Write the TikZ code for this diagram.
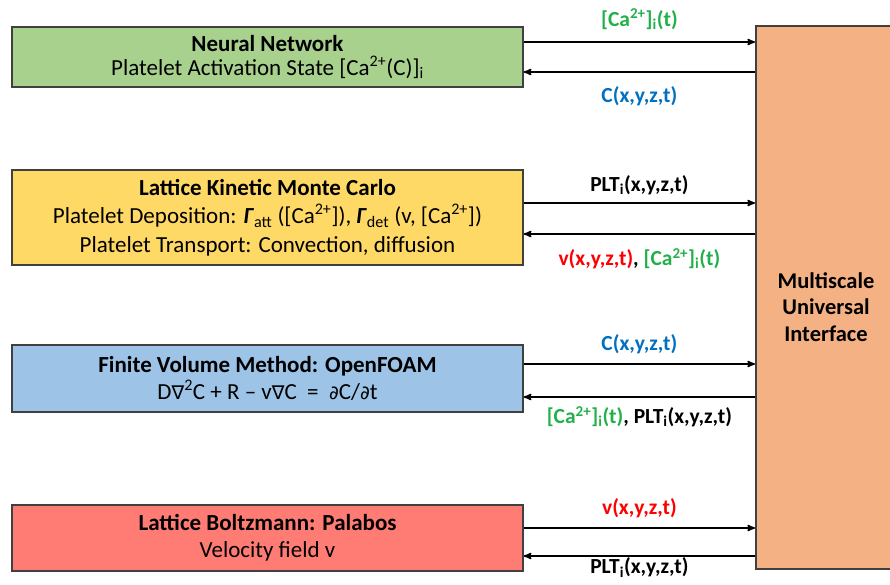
\documentclass[tikz,border=0pt]{standalone}
\usepackage{fontspec}
\setmainfont{Carlito}
\newfontfamily\symfont{DejaVu Sans}
\usetikzlibrary{positioning, arrows}

\definecolor{nnGreen}{HTML}{A9D18E}
\definecolor{kmcYellow}{HTML}{FFD966}
\definecolor{fvmBlue}{HTML}{9DC3E6}
\definecolor{lbRed}{HTML}{FF7C74}
\definecolor{muiOrange}{HTML}{F4B183}
\definecolor{boxEdge}{HTML}{404040}
\definecolor{labGreen}{HTML}{22B04B}
\definecolor{labBlue}{HTML}{0070C0}
\definecolor{labRed}{HTML}{FF0000}

\newcommand{\ca}{[Ca\textsuperscript{2+}]}
\newcommand{\cai}{\ca\textsubscript{i}(t)}
\newcommand{\plt}{PLT\textsubscript{i}(x,y,z,t)}
\newcommand{\rate}[1]{\textbf{\textit{Γ}}\textsubscript{#1}}
\newcommand{\nab}{{\symfont\fontsize{19}{19}\selectfont ∇}}
\newcommand{\prt}{{\symfont\fontsize{19}{19}\selectfont ∂}}

\begin{document}
\begin{tikzpicture}[x=1pt, y=-1pt, >=stealth', line width=1.6pt,
                  model/.style={draw=boxEdge, minimum width=511pt, inner sep=0pt,
                      align=center, font=\fontsize{23}{27.5}\selectfont},
                  link/.style={->, black},
                  lab/.style={font=\bfseries\fontsize{21.5}{22}\selectfont}]

                  \useasboundingbox (0,0) rectangle (890,585);

                  % Los modelos de cada escala.
                  \node[model, fill=nnGreen, minimum height=60pt,
                      font=\fontsize{23}{24}\selectfont] (nn) at (267.5,57)
                  {\textbf{Neural Network}\\
                      Platelet Activation State [Ca\textsuperscript{2+}(C)]\textsubscript{i}};
                  \node[model, fill=kmcYellow, minimum height=95pt,
                      font=\fontsize{23}{28.5}\selectfont] (kmc) at (267.5,217.5)
                  {\textbf{Lattice Kinetic Monte Carlo}\\
                      Platelet Deposition: \rate{att} (\ca), \rate{det} (v, \ca)\\
                      Platelet Transport: Convection, diffusion};
                  \node[model, fill=fvmBlue, minimum height=67pt] (fvm) at (267.5,378.5)
                  {\textbf{Finite Volume Method: OpenFOAM}\\
                      D\nab\textsuperscript{2}C + R -- v\nab C ~=~ \prt C/\prt t};
                  \node[model, fill=lbRed, minimum height=66pt] (lb) at (267.5,538)
                  {\textbf{Lattice Boltzmann: Palabos}\\
                      Velocity field v};

                  % La interfaz.
                  \node[draw=boxEdge, fill=muiOrange, minimum width=150pt,
                      minimum height=543pt, anchor=north west, inner sep=0pt] (mui) at (755,25) {};
                  \node[align=center, font=\bfseries\fontsize{22.5}{26.5}\selectfont]
                  (muitext) at (826,307) {Multiscale\\Universal\\Interface};

                  % Intercambio de datos.
                  \draw[link] ([yshift=15pt]nn.east) -- ([yshift=15pt]nn.east -| mui.west)
                  node[lab, midway, above=8pt, labGreen] {\cai};
                  \draw[link] ([yshift=-15pt]nn.east -| mui.west) -- ([yshift=-15pt]nn.east)
                  node[lab, midway, below=10pt, labBlue] {C(x,y,z,t)};

                  \draw[link] ([yshift=14.5pt]kmc.east) -- ([yshift=14.5pt]kmc.east -| mui.west)
                  node[lab, midway, above=4pt] {\plt};
                  \draw[link] ([yshift=-16.5pt]kmc.east -| mui.west) -- ([yshift=-16.5pt]kmc.east)
                  node[lab, midway, below=10pt] {\textcolor{labRed}{v(x,y,z,t)},
                      \textcolor{labGreen}{\cai}};

                  \draw[link] ([yshift=14.5pt]fvm.east) -- ([yshift=14.5pt]fvm.east -| mui.west)
                  node[lab, midway, above=6pt, labBlue] {C(x,y,z,t)};
                  \draw[link] ([yshift=-18.5pt]fvm.east -| mui.west) -- ([yshift=-18.5pt]fvm.east)
                  node[lab, midway, below=5pt] {\textcolor{labGreen}{\cai}, \plt};

                  \draw[link] ([yshift=10pt]lb.east) -- ([yshift=10pt]lb.east -| mui.west)
                  node[lab, midway, above=6pt, labRed] {v(x,y,z,t)};
                  \draw[link] ([yshift=-18pt]lb.east -| mui.west) -- ([yshift=-18pt]lb.east)
                  node[lab, midway, below=0pt, inner sep=1pt] {\plt};

\end{tikzpicture}
\end{document}
